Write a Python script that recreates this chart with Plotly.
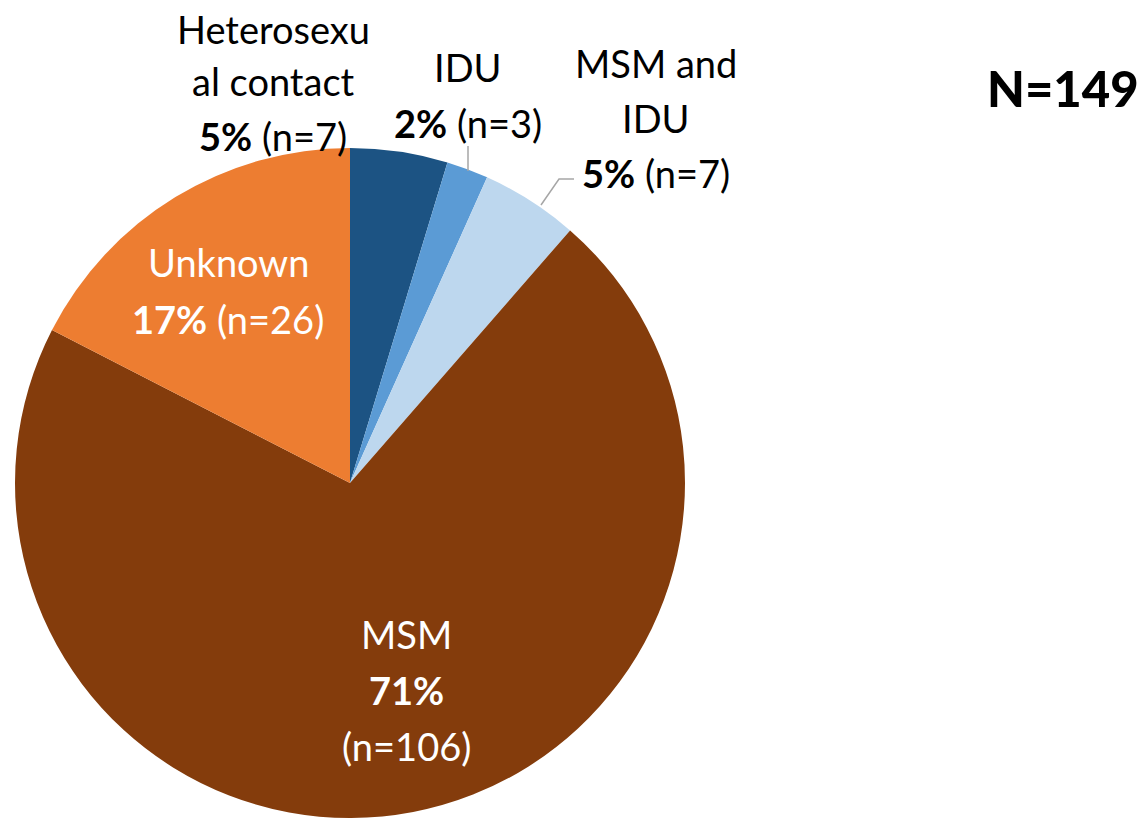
import plotly.graph_objects as go

categories = ["Heterosexual contact", "IDU", "MSM and IDU", "MSM", "Unknown"]
counts = [7, 3, 7, 106, 26]
colors = ["#1C5383", "#5B9BD5", "#BDD7EE", "#843C0C", "#ED7D31"]
total_label = "N=149"

W, H = 1142, 818
total = sum(counts)
pct = [round(100 * c / total) for c in counts]

# pie geometry (pixels)
cx, cy, r = 350, 483, 335

fig = go.Figure()
fig.add_trace(go.Pie(
    labels=categories, values=counts, sort=False, direction="clockwise",
    rotation=0, textinfo="none", hoverinfo="label+value+percent",
    marker=dict(colors=colors, line=dict(width=0)),
    domain=dict(x=[(cx - r) / W, (cx + r) / W], y=[(H - cy - r) / H, (H - cy + r) / H]),
    showlegend=False,
))

FONT = "Lato"
FS = 38

def line_texts(i):
    name = categories[i]
    pc = f"<b>{pct[i]}%</b>"
    n = f"(n={counts[i]})"
    if i == 0:
        return ["Heterosexu", "al contact", f"{pc} {n}"]
    if i == 1:
        return [name, f"{pc} {n}"]
    if i == 2:
        return ["MSM and", "IDU", f"{pc} {n}"]
    if i == 3:
        return [name, pc, n]
    return [name, f"{pc} {n}"]

label_pos = {
    0: (273, [29, 81, 136]),
    1: (468, [67, 123]),
    2: (656, [63, 118, 173]),
    3: (406, [634, 690, 746]),
    4: (228, [262, 319]),
}
text_colors = ["#000000", "#000000", "#000000", "#FFFFFF", "#FFFFFF"]

annotations = []
for i in range(len(categories)):
    x, ys = label_pos[i]
    for t, y in zip(line_texts(i), ys):
        annotations.append(dict(x=x, y=y, xref="x", yref="y", text=t, showarrow=False,
                                xanchor="center", yanchor="middle",
                                font=dict(family=FONT, size=FS, color=text_colors[i])))

annotations.append(dict(x=1141, y=88, xref="x", yref="y", text=total_label,
                        showarrow=False, xanchor="right", yanchor="middle",
                        font=dict(family=FONT, size=49, color="#000000", weight=900)))

shapes = [
    dict(type="line", x0=468, y0=146, x1=468, y1=171, xref="x", yref="y",
         line=dict(color="#A6A6A6", width=1.5)),
    dict(type="path", path="M 574 179 L 559 179 L 541 205", xref="x", yref="y",
         line=dict(color="#A6A6A6", width=1.5)),
]

fig.update_layout(
    width=W, height=H, margin=dict(l=0, r=0, t=0, b=0),
    paper_bgcolor="white", plot_bgcolor="rgba(0,0,0,0)",
    xaxis=dict(range=[0, W], visible=False, fixedrange=True),
    yaxis=dict(range=[H, 0], visible=False, fixedrange=True),
    annotations=annotations, shapes=shapes,
)

fig.write_html("out.html", config={"displayModeBar": False},
               post_script="document.body.style.margin='0';document.body.style.overflow='hidden';")
